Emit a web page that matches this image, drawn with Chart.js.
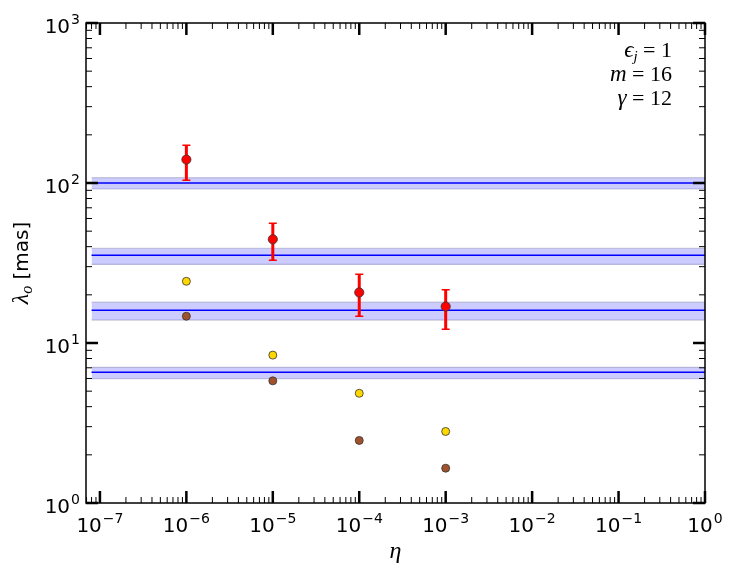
<!DOCTYPE html>
<html>
<head>
<meta charset="utf-8">
<script src="https://cdn.jsdelivr.net/npm/chart.js@4"></script>
<style>
    body { margin: 0; background: #fff; }
    canvas { display: block; }
</style>
</head>
<body>
<canvas id="lambdaChart" width="734" height="576"></canvas>
<script>
// eta values of the measured points
const etaValues = [1e-6, 1e-5, 1e-4, 1e-3];

// red points with error bars
const lambdaObs = [140, 44.5, 20.7, 16.9];
const lambdaLow = [104, 32.9, 14.7, 12.2];
const lambdaHigh = [172, 56, 26.9, 21.5];

// yellow and brown points
const yellowValues = [24.3, 8.4, 4.85, 2.8];
const brownValues = [14.7, 5.8, 2.46, 1.65];

// horizontal bands
const bandCenters = [100, 35.3, 16.0, 6.56];
const bandLows = [91.7, 31.0, 13.9, 5.98];
const bandHighs = [108, 39.1, 18.0, 7.05];
const bandEta = [8e-8, 1];

// axes
const xTickExps = [-7, -6, -5, -4, -3, -2, -1, 0];
const yTickExps = [0, 1, 2, 3];

const annotations = [
    { sym: 'ϵ', sub: 'j', val: '1' },
    { sym: 'm', sub: '', val: '16' },
    { sym: 'γ', sub: '', val: '12' }
];

const flat = (v) => bandEta.map(x => ({ x: x, y: v }));
const pts = (vals) => etaValues.map((x, i) => ({ x: x, y: vals[i] }));

let datasets = [];

datasets.push({
    label: 'obs',
    data: pts(lambdaObs),
    backgroundColor: '#ff0000',
    borderColor: '#333333',
    borderWidth: 0.8,
    pointRadius: 4.6,
    order: 0
});
datasets.push({
    label: 'yellow',
    data: pts(yellowValues),
    backgroundColor: '#ffd700',
    borderColor: '#333333',
    borderWidth: 0.8,
    pointRadius: 4,
    order: 1
});
datasets.push({
    label: 'brown',
    data: pts(brownValues),
    backgroundColor: '#a0522d',
    borderColor: '#333333',
    borderWidth: 0.8,
    pointRadius: 4,
    order: 1
});

bandCenters.forEach((c, i) => {
    datasets.push({
        data: flat(c),
        showLine: true,
        borderColor: '#0000ff',
        borderWidth: 1.5,
        pointRadius: 0,
        order: 2
    });
    // upper edge fills down to the lower edge (next dataset)
    datasets.push({
        data: flat(bandHighs[i]),
        showLine: true,
        borderColor: 'rgba(110,110,150,0.35)',
        borderWidth: 1.2,
        pointRadius: 0,
        fill: '+1',
        backgroundColor: 'rgba(0,0,255,0.2)',
        order: 3
    });
    datasets.push({
        data: flat(bandLows[i]),
        showLine: true,
        borderColor: 'rgba(110,110,150,0.35)',
        borderWidth: 1.2,
        pointRadius: 0,
        order: 3
    });
});

const drawPow = (ctx, exp, x, y, align) => {
    ctx.font = "20px 'DejaVu Sans'";
    const w1 = ctx.measureText('10').width;
    const s = exp < 0 ? '\u2212' + (-exp) : '' + exp;
    ctx.font = "14px 'DejaVu Sans'";
    const w2 = ctx.measureText(s).width;
    const total = w1 + 1 + w2;
    const x0 = align === 'center' ? x - total / 2 : x - total;
    ctx.textAlign = 'left';
    ctx.textBaseline = 'alphabetic';
    ctx.font = "20px 'DejaVu Sans'";
    ctx.fillText('10', x0, y);
    ctx.font = "14px 'DejaVu Sans'";
    ctx.fillText(s, x0 + w1 + 1, y - 9);
};

const whiteBg = {
    id: 'whiteBg',
    beforeDraw(chart) {
        const ctx = chart.ctx;
        ctx.save();
        ctx.fillStyle = '#fff';
        ctx.fillRect(0, 0, chart.width, chart.height);
        ctx.restore();
    }
};

const errorBars = {
    id: 'errorBars',
    beforeDatasetDraw(chart, args) {
        if (args.index !== 0) return;
        const { ctx, scales: { x, y } } = chart;
        ctx.save();
        ctx.strokeStyle = '#ff0000';
        etaValues.forEach((e, i) => {
            const px = x.getPixelForValue(e);
            const top = y.getPixelForValue(lambdaHigh[i]);
            const bot = y.getPixelForValue(lambdaLow[i]);
            ctx.lineWidth = 3;
            ctx.beginPath();
            ctx.moveTo(px, top);
            ctx.lineTo(px, bot);
            ctx.stroke();
            ctx.lineWidth = 1.5;
            ctx.beginPath();
            ctx.moveTo(px - 4, top);
            ctx.lineTo(px + 4, top);
            ctx.moveTo(px - 4, bot);
            ctx.lineTo(px + 4, bot);
            ctx.stroke();
        });
        ctx.restore();
    }
};

const frameAndText = {
    id: 'frameAndText',
    afterDraw(chart) {
        const { ctx, chartArea: a, scales: { x, y } } = chart;
        ctx.save();
        ctx.strokeStyle = '#000';
        ctx.fillStyle = '#000';

        // x ticks, top and bottom, pointing inward
        for (let e = -8; e <= 0; e++) {
            for (let m = 1; m < 10; m++) {
                const v = m * Math.pow(10, e);
                if (v < x.min * 0.999 || v > x.max * 1.001) continue;
                const px = x.getPixelForValue(v);
                const len = m === 1 ? 12 : 6;
                ctx.lineWidth = m === 1 ? 2.5 : 1;
                ctx.beginPath();
                ctx.moveTo(px, a.bottom);
                ctx.lineTo(px, a.bottom - len);
                ctx.moveTo(px, a.top);
                ctx.lineTo(px, a.top + len);
                ctx.stroke();
            }
        }
        // y ticks, left and right
        for (let e = 0; e <= 3; e++) {
            for (let m = 1; m < 10; m++) {
                const v = m * Math.pow(10, e);
                if (v > y.max * 1.001) continue;
                const py = y.getPixelForValue(v);
                const len = m === 1 ? 12 : 6;
                ctx.lineWidth = m === 1 ? 2.5 : 1;
                ctx.beginPath();
                ctx.moveTo(a.left, py);
                ctx.lineTo(a.left + len, py);
                ctx.moveTo(a.right, py);
                ctx.lineTo(a.right - len, py);
                ctx.stroke();
            }
        }

        ctx.lineWidth = 1.5;
        ctx.strokeRect(a.left, a.top, a.right - a.left, a.bottom - a.top);

        xTickExps.forEach(e => drawPow(ctx, e, x.getPixelForValue(Math.pow(10, e)), a.bottom + 29, 'center'));
        yTickExps.forEach(e => drawPow(ctx, e, a.left - 6, y.getPixelForValue(Math.pow(10, e)) + 10, 'right'));

        // x axis label
        ctx.font = "italic 24px 'Liberation Serif'";
        ctx.textAlign = 'center';
        ctx.fillText('η', (a.left + a.right) / 2, 558);

        // y axis label
        ctx.save();
        ctx.translate(28, (a.top + a.bottom) / 2);
        ctx.rotate(-Math.PI / 2);
        ctx.font = "italic 24px 'Liberation Serif'";
        const wl = ctx.measureText('λ').width;
        ctx.font = "italic 16px 'Liberation Serif'";
        const wo = ctx.measureText('o').width;
        ctx.font = "20px 'DejaVu Sans'";
        const wm = ctx.measureText(' [mas]').width;
        let cx = -(wl + wo + wm) / 2;
        ctx.textAlign = 'left';
        ctx.font = "italic 24px 'Liberation Serif'";
        ctx.fillText('λ', cx, 0);
        ctx.font = "italic 16px 'Liberation Serif'";
        ctx.fillText('o', cx + wl, 4);
        ctx.font = "20px 'DejaVu Sans'";
        ctx.fillText(' [mas]', cx + wl + wo, 0);
        ctx.restore();

        // parameter box, right aligned
        const baselines = [57, 81, 105];
        annotations.forEach((t, i) => {
            const right = 672;
            const yb = baselines[i];
            ctx.font = "22px 'Liberation Serif'";
            const rest = ' = ' + t.val;
            const wr = ctx.measureText(rest).width;
            ctx.font = "italic 15px 'Liberation Serif'";
            const ws = t.sub ? ctx.measureText(t.sub).width : 0;
            ctx.font = "italic 23px 'Liberation Serif'";
            const wsym = ctx.measureText(t.sym).width;
            let sx = right - wr - ws - wsym;
            ctx.textAlign = 'left';
            ctx.fillText(t.sym, sx, yb);
            if (t.sub) {
                ctx.font = "italic 15px 'Liberation Serif'";
                ctx.fillText(t.sub, sx + wsym, yb + 4);
            }
            ctx.font = "22px 'Liberation Serif'";
            ctx.fillText(rest, sx + wsym + ws, yb);
        });

        ctx.restore();
    }
};

new Chart(document.getElementById('lambdaChart'), {
    type: 'scatter',
    data: { datasets: datasets },
    options: {
        responsive: false,
        animation: false,
        devicePixelRatio: 1,
        layout: { padding: { left: 86, right: 29, top: 23, bottom: 73 } },
        plugins: {
            legend: { display: false },
            tooltip: { enabled: false }
        },
        scales: {
            x: { type: 'logarithmic', min: 6.9e-8, max: 1, display: false },
            y: { type: 'logarithmic', min: 1, max: 1000, display: false }
        }
    },
    plugins: [whiteBg, errorBars, frameAndText]
});
</script>
</body>
</html>
